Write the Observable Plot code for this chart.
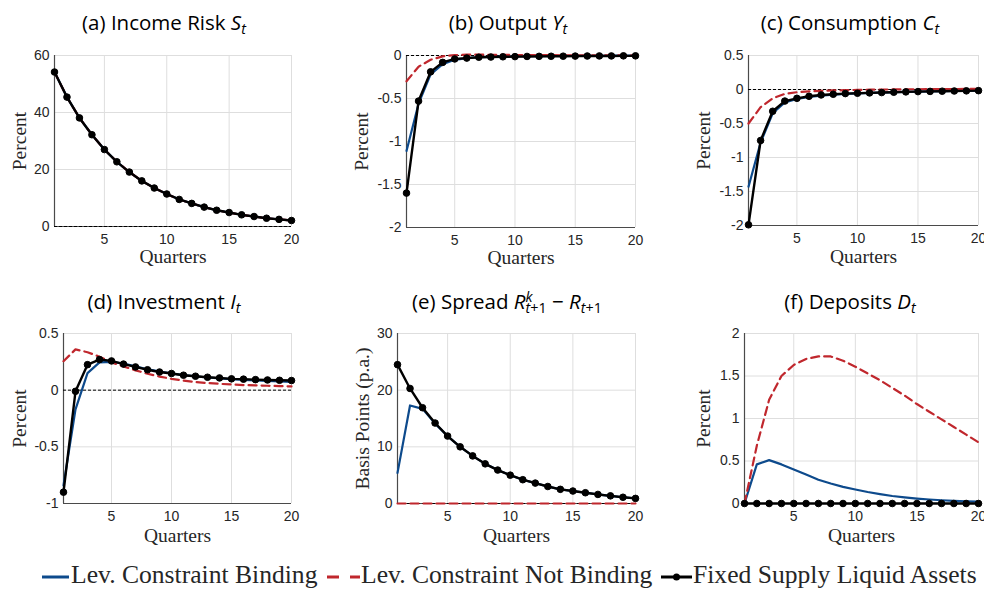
<!DOCTYPE html>
<html>
<head>
<meta charset="utf-8">
<script src="https://cdn.jsdelivr.net/npm/d3@7"></script>
<script src="https://cdn.jsdelivr.net/npm/@observablehq/plot@0.6"></script>
<style>
  html, body { margin: 0; padding: 0; background: #fff; }
  #wrap { position: relative; width: 984px; height: 592px; overflow: hidden; background: #fff; }
  #wrap svg.plotsvg { position: absolute; }
  .title { position: absolute; width: 340px; text-align: center; font-family: "Open Sans", "Noto Sans", sans-serif;
           font-size: 20.5px; line-height: 20px; color: #000; white-space: nowrap; }
  .title i { font-style: italic; }
  .title .sb { font-size: 0.7em; position: relative; top: 0.3em; }
  .title .sp { font-size: 0.7em; position: absolute; left: 0; top: 0; }
  .title .ssw { position: relative; }
</style>
</head>
<body>
<div id="wrap"></div>
<script>
// ---------- data ----------
const quarters = [1,2,3,4,5,6,7,8,9,10,11,12,13,14,15,16,17,18,19,20];
const seriesNames = ["Lev. Constraint Binding", "Lev. Constraint Not Binding", "Fixed Supply Liquid Assets"];

// (a) Income risk (all three scenarios coincide)
const incomeBinding    = [54.2,45.4,38.1,32.2,27.0,22.7,19.1,16.0,13.5,11.4,9.5,8.1,6.8,5.7,4.9,4.1,3.5,2.9,2.5,2.1];
const incomeNotBinding = [54.2,45.4,38.1,32.2,27.0,22.7,19.1,16.0,13.5,11.4,9.5,8.1,6.8,5.7,4.9,4.1,3.5,2.9,2.5,2.1];
const incomeFixed      = [54.2,45.4,38.1,32.2,27.0,22.7,19.1,16.0,13.5,11.4,9.5,8.1,6.8,5.7,4.9,4.1,3.5,2.9,2.5,2.1];

// (b) Output
const outputBinding    = [-1.11,-0.56,-0.22,-0.10,-0.05,-0.03,-0.02,-0.015,-0.012,-0.010,-0.008,-0.007,-0.006,-0.005,-0.004,-0.003,-0.003,-0.002,-0.002,-0.002];
const outputNotBinding = [-0.30,-0.13,-0.05,-0.01,0.005,0.010,0.010,0.008,0.007,0.006,0.005,0.004,0.004,0.003,0.003,0.002,0.002,0.002,0.001,0.001];
const outputFixed      = [-1.60,-0.53,-0.19,-0.08,-0.04,-0.03,-0.02,-0.018,-0.015,-0.013,-0.011,-0.010,-0.009,-0.008,-0.007,-0.006,-0.005,-0.005,-0.004,-0.004];

// (c) Consumption
const consBinding    = [-1.43,-0.78,-0.35,-0.19,-0.14,-0.11,-0.09,-0.075,-0.065,-0.057,-0.050,-0.045,-0.040,-0.035,-0.031,-0.028,-0.025,-0.022,-0.020,-0.018];
const consNotBinding = [-0.50,-0.26,-0.13,-0.065,-0.040,-0.028,-0.020,-0.014,-0.010,-0.006,-0.003,-0.001,0.001,0.003,0.004,0.005,0.006,0.007,0.008,0.009];
const consFixed      = [-1.99,-0.75,-0.32,-0.17,-0.13,-0.10,-0.08,-0.07,-0.06,-0.055,-0.050,-0.045,-0.040,-0.035,-0.031,-0.028,-0.025,-0.022,-0.020,-0.017];

// (d) Investment
const invBinding    = [-0.84,-0.17,0.15,0.245,0.25,0.235,0.21,0.185,0.165,0.148,0.133,0.122,0.112,0.104,0.097,0.091,0.086,0.081,0.077,0.073];
const invNotBinding = [0.255,0.36,0.335,0.295,0.245,0.21,0.175,0.145,0.12,0.10,0.085,0.072,0.063,0.056,0.050,0.045,0.042,0.039,0.036,0.033];
const invFixed      = [-0.90,-0.01,0.225,0.27,0.258,0.23,0.205,0.18,0.16,0.147,0.132,0.123,0.114,0.108,0.100,0.097,0.093,0.090,0.087,0.085];

// (e) Spread (basis points)
const spreadBinding    = [5.4,17.3,16.7,14.1,11.9,10.0,8.4,7.0,5.9,5.0,4.2,3.6,3.0,2.5,2.2,1.9,1.6,1.35,1.1,0.9];
const spreadNotBinding = [0,0,0,0,0,0,0,0,0,0,0,0,0,0,0,0,0,0,0,0];
const spreadFixed      = [24.5,20.3,16.9,14.2,11.9,10.0,8.4,7.0,5.9,5.0,4.2,3.6,3.0,2.5,2.2,1.9,1.6,1.35,1.1,0.9];

// (f) Deposits
const depBinding    = [0,0.46,0.51,0.46,0.40,0.34,0.28,0.235,0.195,0.165,0.135,0.11,0.088,0.072,0.058,0.047,0.038,0.031,0.026,0.022];
const depNotBinding = [0,0.68,1.22,1.50,1.63,1.70,1.73,1.73,1.68,1.61,1.53,1.45,1.36,1.27,1.17,1.08,0.99,0.90,0.81,0.72];
const depFixed      = [0,0,0,0,0,0,0,0,0,0,0,0,0,0,0,0,0,0,0,0];

// tick values
const xTicks = [5,10,15,20];
const yTicksA = [0,20,40,60];
const yTicksB = [-2,-1.5,-1,-0.5,0];
const yTicksC = [-2,-1.5,-1,-0.5,0,0.5];
const yTicksD = [-1,-0.5,0,0.5];
const yTicksE = [0,10,20,30];
const yTicksF = [0,0.5,1,1.5,2];

// ---------- styling ----------
const BLUE = "#0d4a8c", RED = "#c0272d", BLACK = "#000";
const GRID = "#dedede", AXIS = "#4a4a4a";
const SERIF = "'Liberation Serif', 'Times New Roman', serif";

function makeTable(b, n, f) {
  return quarters.map((t, i) => ({t, b: b[i], n: n[i], f: f[i]}));
}

const panels = [
  {left: 0,   top: 0,   w: 330, h: 280, ml: 54, mr: 39, mt: 55, mb: 54, yd: [0,60],    yt: yTicksA, yl: "Percent", ylx: 35, qdy: 36,
   data: makeTable(incomeBinding, incomeNotBinding, incomeFixed)},
  {left: 330, top: 0,   w: 330, h: 280, ml: 76, mr: 25, mt: 55, mb: 53, yd: [-2,0],    yt: yTicksB, yl: "Percent", ylx: 45, qdy: 36,
   data: makeTable(outputBinding, outputNotBinding, outputFixed)},
  {left: 660, top: 0,   w: 324, h: 280, ml: 88, mr: 6,  mt: 55, mb: 55, yd: [-2,0.5],  yt: yTicksC, yl: "Percent", ylx: 45, qdy: 37,
   data: makeTable(consBinding, consNotBinding, consFixed)},
  {left: 0,   top: 280, w: 330, h: 270, ml: 63, mr: 39, mt: 53, mb: 47, yd: [-1,0.5],  yt: yTicksD, yl: "Percent", ylx: 44, qdy: 38,
   data: makeTable(invBinding, invNotBinding, invFixed)},
  {left: 330, top: 280, w: 330, h: 270, ml: 67, mr: 25, mt: 53, mb: 47, yd: [0,30],    yt: yTicksE, yl: "Basis Points (p.a.)", ylx: 35, qdy: 38,
   data: makeTable(spreadBinding, spreadNotBinding, spreadFixed)},
  {left: 660, top: 280, w: 324, h: 270, ml: 84, mr: 6,  mt: 53, mb: 47, yd: [0,2],     yt: yTicksF, yl: "Percent", ylx: 41, qdy: 38,
   data: makeTable(depBinding, depNotBinding, depFixed)}
];

const wrap = document.getElementById("wrap");

panels.forEach(p => {
  const svg = Plot.plot({
    width: p.w, height: p.h,
    marginLeft: p.ml, marginRight: p.mr, marginTop: p.mt, marginBottom: p.mb,
    style: {fontFamily: "'Liberation Sans', Arial, sans-serif", fontSize: "14px", color: "#262626", background: "transparent", overflow: "visible"},
    x: {domain: [1, 20], ticks: xTicks, tickSize: 0, tickPadding: 8, label: null, tickFormat: d => String(d)},
    y: {domain: p.yd, ticks: p.yt, tickSize: 0, tickPadding: 5, label: null, tickFormat: d => String(d)},
    marks: [
      Plot.ruleX(xTicks, {stroke: GRID, strokeWidth: 1}),
      Plot.ruleY(p.yt, {stroke: GRID, strokeWidth: 1}),
      Plot.ruleX([1], {stroke: AXIS, strokeWidth: 1.2}),
      Plot.ruleY([p.yd[0]], {stroke: AXIS, strokeWidth: 1.2}),
      Plot.ruleY([0], {stroke: "#000", strokeWidth: 1, strokeDasharray: "3,2"}),
      Plot.line(p.data, {x: "t", y: "b", stroke: BLUE, strokeWidth: 2.2}),
      Plot.line(p.data, {x: "t", y: "n", stroke: RED, strokeWidth: 2.2, strokeDasharray: "8,5"}),
      Plot.line(p.data, {x: "t", y: "f", stroke: BLACK, strokeWidth: 2.4}),
      Plot.dot(p.data, {x: "t", y: "f", r: 3.3, fill: BLACK, stroke: BLACK, strokeWidth: 1}),
      Plot.text(["Quarters"], {frameAnchor: "bottom", dy: p.qdy, lineAnchor: "bottom", fontFamily: SERIF, fontSize: 19.5, fill: "#262626"}),
      Plot.text([p.yl], {frameAnchor: "left", dx: -p.ylx, rotate: -90, textAnchor: "middle", lineAnchor: "middle", fontFamily: SERIF, fontSize: 19.5, fill: "#262626"})
    ]
  });
  svg.classList.add("plotsvg");
  svg.style.left = p.left + "px";
  svg.style.top = p.top + "px";
  wrap.appendChild(svg);
});

// ---------- titles ----------
const titles = [
  {cx: 164, base: 29,  html: '(a) Income Risk <i>S</i><span class="sb"><i>t</i></span>'},
  {cx: 508, base: 29,  html: '(b) Output <i>Y</i><span class="sb"><i>t</i></span>'},
  {cx: 850, base: 29,  html: '(c) Consumption <i>C</i><span class="sb"><i>t</i></span>'},
  {cx: 164, base: 308, html: '(d) Investment <i>I</i><span class="sb"><i>t</i></span>'},
  {cx: 507, base: 308, html: '(e) Spread <i>R</i><span class="ssw"><span class="sb"><i>t</i>+1</span><span class="sp"><i>k</i></span></span> \u2212 <i>R</i><span class="sb"><i>t</i>+1</span>'},
  {cx: 850, base: 308, html: '(f) Deposits <i>D</i><span class="sb"><i>t</i></span>'}
];
titles.forEach(t => {
  const d = document.createElement("div");
  d.className = "title";
  d.style.left = (t.cx - 170) + "px";
  d.style.top = (t.base - 17) + "px";
  d.innerHTML = t.html;
  wrap.appendChild(d);
});

// ---------- legend ----------
const NS = "http://www.w3.org/2000/svg";
const leg = document.createElementNS(NS, "svg");
leg.setAttribute("width", 984); leg.setAttribute("height", 42);
leg.style.position = "absolute"; leg.style.left = "0px"; leg.style.top = "555px";
const legItems = [
  {x0: 42, x1: 69, tx: 71, stroke: BLUE, dash: null, dot: false},
  {x0: 327, x1: 360, tx: 361, stroke: RED, dash: "12,11", dot: false},
  {x0: 661, x1: 692, tx: 693, stroke: BLACK, dash: null, dot: true}
];
legItems.forEach((it, i) => {
  const ln = document.createElementNS(NS, "line");
  ln.setAttribute("x1", it.x0); ln.setAttribute("x2", it.x1);
  ln.setAttribute("y1", 22); ln.setAttribute("y2", 22);
  ln.setAttribute("stroke", it.stroke); ln.setAttribute("stroke-width", 3);
  if (it.dash) ln.setAttribute("stroke-dasharray", it.dash);
  leg.appendChild(ln);
  if (it.dot) {
    const c = document.createElementNS(NS, "circle");
    c.setAttribute("cx", (it.x0 + it.x1) / 2); c.setAttribute("cy", 22); c.setAttribute("r", 3.5);
    c.setAttribute("fill", BLACK);
    leg.appendChild(c);
  }
  const tx = document.createElementNS(NS, "text");
  tx.setAttribute("x", it.tx); tx.setAttribute("y", 28);
  tx.setAttribute("font-family", SERIF); tx.setAttribute("font-size", 25.6);
  tx.setAttribute("fill", "#262626");
  tx.textContent = seriesNames[i];
  leg.appendChild(tx);
});
wrap.appendChild(leg);
</script>
</body>
</html>
